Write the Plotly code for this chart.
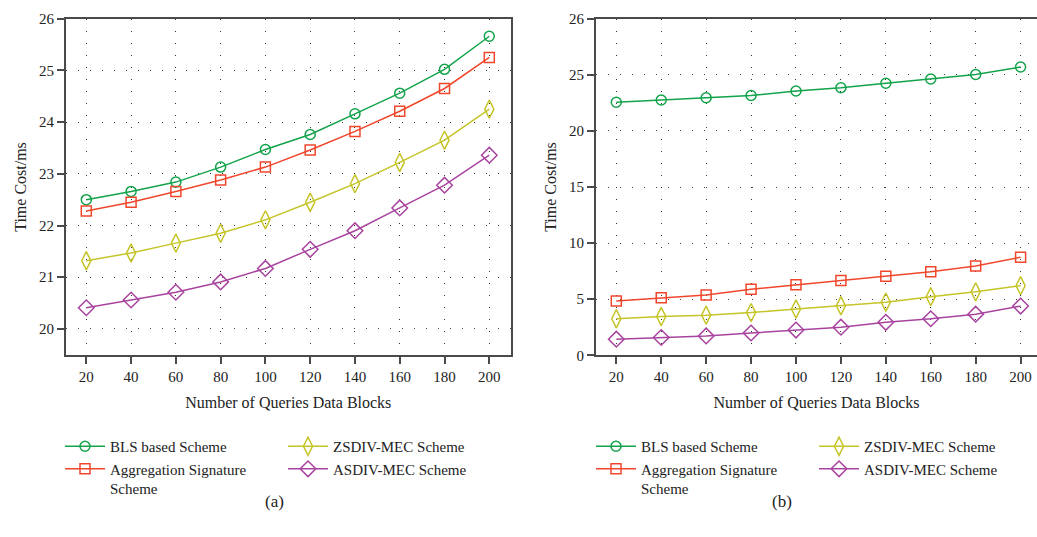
import plotly.graph_objects as go

blocks = [20, 40, 60, 80, 100, 120, 140, 160, 180, 200]

names = ["BLS based Scheme", "Aggregation Signature<br>Scheme", "ZSDIV-MEC Scheme", "ASDIV-MEC Scheme"]

# panel (a)
bls_a = [22.50, 22.66, 22.84, 23.13, 23.47, 23.76, 24.16, 24.56, 25.02, 25.66]
agg_a = [22.28, 22.45, 22.66, 22.88, 23.13, 23.46, 23.82, 24.21, 24.65, 25.25]
zsd_a = [21.32, 21.47, 21.66, 21.85, 22.11, 22.45, 22.81, 23.22, 23.65, 24.25]
asd_a = [20.41, 20.56, 20.71, 20.91, 21.17, 21.54, 21.90, 22.34, 22.78, 23.36]

# panel (b)
bls_b = [22.55, 22.75, 22.95, 23.15, 23.56, 23.85, 24.25, 24.62, 25.03, 25.69]
agg_b = [4.85, 5.14, 5.37, 5.89, 6.29, 6.67, 7.04, 7.45, 7.97, 8.75]
zsd_b = [3.26, 3.46, 3.58, 3.81, 4.13, 4.42, 4.73, 5.23, 5.66, 6.21]
asd_b = [1.44, 1.59, 1.73, 1.99, 2.25, 2.51, 2.94, 3.26, 3.67, 4.39]

ytick_a = [20, 21, 22, 23, 24, 25, 26]
ytick_b_vals = [0, 5, 10, 15, 20, 25, 30]
ytick_b_text = ["0", "5", "10", "15", "20", "25", "26"]

colors = ["#13a34b", "#f0472c", "#c5c428", "#a8449f"]
symbols = ["circle-open", "square-open", "diamond-tall-open", "diamond-open"]
msizes = [10, 10, 13, 12]

FONT = "Liberation Serif"
TXT = "#222"

fig = go.Figure()

series_a = [bls_a, agg_a, zsd_a, asd_a]
series_b = [bls_b, agg_b, zsd_b, asd_b]
legends_a = ["legend", "legend", "legend2", "legend2"]
legends_b = ["legend3", "legend3", "legend4", "legend4"]

for i in range(4):
    fig.add_trace(go.Scatter(
        x=blocks, y=series_a[i], name=names[i], mode="lines+markers",
        line=dict(color=colors[i], width=1.5),
        marker=dict(symbol=symbols[i], size=msizes[i], color=colors[i], line=dict(width=1.5, color=colors[i])),
        xaxis="x", yaxis="y", legend=legends_a[i]))
for i in range(4):
    fig.add_trace(go.Scatter(
        x=blocks, y=series_b[i], name=names[i], mode="lines+markers",
        line=dict(color=colors[i], width=1.5),
        marker=dict(symbol=symbols[i], size=msizes[i], color=colors[i], line=dict(width=1.5, color=colors[i])),
        xaxis="x2", yaxis="y2", legend=legends_b[i]))

W, H = 1037, 537
axcol = "#4a4a4a"
common_x = dict(
    tickvals=blocks, showline=True, linecolor=axcol, linewidth=2,
    ticks="outside", ticklen=7, tickwidth=2, tickcolor=axcol,
    showgrid=True, gridcolor="#333", gridwidth=1, griddash="1px,11px",
    zeroline=False, tickfont=dict(family=FONT, size=15, color=TXT),
    title=dict(text="Number of Queries Data Blocks", font=dict(family=FONT, size=16, color=TXT), standoff=12),
)
common_y = dict(
    showline=True, linecolor=axcol, linewidth=2,
    ticks="outside", ticklen=7, tickwidth=2, tickcolor=axcol,
    showgrid=True, gridcolor="#444", gridwidth=1, griddash="1px,11px",
    zeroline=False, tickfont=dict(family=FONT, size=15, color=TXT),
    title=dict(text="Time Cost/ms", font=dict(family=FONT, size=16, color=TXT), standoff=8),
)

ybot = (H - 358) / H
ytop = (H - 11) / H

leg_common = dict(orientation="v", xanchor="left", yanchor="top", valign="top",
                  font=dict(family=FONT, size=15, color=TXT), bgcolor="rgba(0,0,0,0)",
                  tracegroupgap=0, itemwidth=40)

ly = (H - 435) / H
fig.update_layout(
    width=W, height=H,
    margin=dict(l=0, r=0, t=0, b=0),
    paper_bgcolor="white", plot_bgcolor="white",
    xaxis=dict(common_x, domain=[66 / W, 510.5 / W], range=[10.93, 209.47], mirror=True, anchor="y"),
    yaxis=dict(common_y, domain=[ybot, ytop], range=[19.49, 26], tickvals=ytick_a, mirror=True, anchor="x"),
    xaxis2=dict(common_x, domain=[596 / W, 1.0], range=[10.96, 207.3], mirror=True, anchor="y2"),
    yaxis2=dict(common_y, domain=[ybot, ytop], range=[0, 30], tickvals=ytick_b_vals, ticktext=ytick_b_text,
                mirror=False, anchor="x2"),
    legend=dict(leg_common, x=60 / W, y=ly),
    legend2=dict(leg_common, x=283 / W, y=ly),
    legend3=dict(leg_common, x=591 / W, y=ly),
    legend4=dict(leg_common, x=814 / W, y=ly),
    showlegend=True,
    annotations=[
        dict(text="(a)", x=263 / W, y=(H - 521) / H, xref="paper", yref="paper", showarrow=False,
             font=dict(family=FONT, size=17, color=TXT)),
        dict(text="(b)", x=794 / W, y=(H - 521) / H, xref="paper", yref="paper", showarrow=False,
             font=dict(family=FONT, size=17, color=TXT)),
    ],
)

fig.write_html("out.html")
